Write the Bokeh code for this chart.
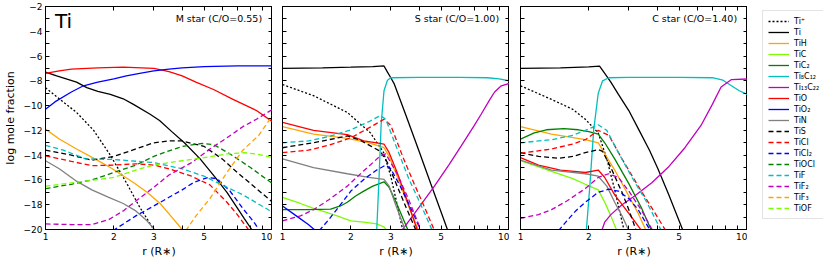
from bokeh.plotting import figure
from bokeh.models import Range1d, LinearAxis, FixedTicker, Label, Legend, LegendItem
from bokeh.layouts import row
from bokeh.embed import file_html
from bokeh.resources import INLINE

FONT = "DejaVu Sans"

SPECIES = ["Ti+", "Ti", "TiH", "TiC", "TiC2", "Ti8C12", "Ti13C22", "TiO", "TiO2", "TiN",
           "TiS", "TiCl", "TiCl2", "TiOCl", "TiF", "TiF2", "TiF3", "TiOF"]
LEGEND_LABELS = ["Ti⁺", "Ti", "TiH", "TiC", "TiC₂", "Ti₈C₁₂", "Ti₁₃C₂₂", "TiO", "TiO₂", "TiN",
                 "TiS", "TiCl", "TiCl₂", "TiOCl", "TiF", "TiF₂", "TiF₃", "TiOF"]
COLORS = {"Ti+": "black", "Ti": "black", "TiH": "#FFA500", "TiC": "#7CFC00", "TiC2": "#008000",
          "Ti8C12": "#00BFBF", "Ti13C22": "#BF00BF", "TiO": "#FF0000", "TiO2": "#0000FF",
          "TiN": "#808080", "TiS": "black", "TiCl": "#FF0000", "TiCl2": "#0000FF",
          "TiOCl": "#008000", "TiF": "#00BFBF", "TiF2": "#BF00BF", "TiF3": "#FFA500",
          "TiOF": "#7CFC00"}
DASH = {"Ti+": "2 2", "TiS": "5 3", "TiCl": "5 3", "TiCl2": "5 3", "TiOCl": "5 3",
        "TiF": "5 3", "TiF2": "5 3", "TiF3": "5 3", "TiOF": "5 3"}

R_TICKS = [1, 2, 3, 4, 5, 6, 7, 8, 9, 10]
R_TICK_LABELS = ["1", "2", "3", "", "5", "", "", "", "", "10"]
Y_TICKS = list(range(-20, -1))
Y_TICK_LABELS = [("−%d" % (-t)) if t % 2 == 0 else "" for t in Y_TICKS]

TITLES = ["M star (C/O=0.55)", "S star (C/O=1.00)", "C star (C/O=1.40)"]

# M star (C/O=0.55): species -> (r [R*], log mole fraction)
M_DATA = {
    "Ti+": ([1, 1.16, 1.37, 1.63, 1.93, 2.3, 2.6, 3.0, 3.1],
            [-8.55, -9.5, -10.55, -12.0, -14.0, -16.4, -18.2, -20.0, -20.6]),
    "Ti": ([1, 1.12, 1.37, 1.52, 1.7, 1.93, 2.2, 2.44, 2.89, 3.18, 3.6, 4.09, 4.8, 5.65, 6.3, 6.9, 7.5, 8.1, 8.4],
           [-7.3, -7.6, -8.1, -8.55, -8.85, -9.1, -9.45, -9.9, -10.7, -11.2, -12.1, -13.0, -14.3, -15.9, -17.0, -18.1, -19.1, -20.0, -20.5]),
    "TiH": ([1, 1.15, 1.37, 1.65, 1.93, 2.44, 2.8, 3.2, 3.6, 4.0, 4.1],
            [-11.9, -12.7, -13.5, -14.3, -15.0, -16.2, -17.0, -17.9, -19.0, -20.0, -20.3]),
    "TiO": ([1, 1.15, 1.3, 1.7, 2.2, 3.0, 3.5, 4.0, 4.6, 5.5, 6.7, 8.5, 10],
            [-7.4, -7.2, -7.05, -6.95, -6.9, -7.0, -7.25, -7.6, -8.1, -8.7, -9.5, -10.4, -11.3]),
    "TiO2": ([1, 1.1, 1.3, 1.47, 1.7, 2.0, 2.27, 2.6, 3.0, 3.5, 4.0, 5.0, 7.0, 10],
             [-10.3, -9.7, -8.9, -8.4, -8.1, -7.85, -7.6, -7.4, -7.2, -7.05, -6.95, -6.85, -6.8, -6.8]),
    "TiN": ([1, 1.15, 1.37, 1.6, 1.9, 2.2, 2.5, 2.8, 3.05],
            [-14.45, -15.1, -16.1, -16.8, -17.4, -17.9, -18.5, -19.3, -20.1]),
    "TiS": ([1, 1.3, 1.6, 2.0, 2.5, 3.0, 3.5, 4.0, 5.0, 6.0, 7.0, 8.5, 10],
            [-13.6, -14.0, -14.4, -14.1, -13.5, -13.0, -12.85, -12.85, -13.3, -14.3, -15.4, -16.7, -17.8]),
    "TiCl": ([1, 1.3, 1.6, 2.0, 2.5, 3.0, 3.5, 4.4, 5.3, 6.3, 7.0, 7.9],
             [-14.05, -14.5, -14.85, -14.8, -14.7, -14.8, -15.1, -15.7, -16.4, -17.8, -18.8, -20.1]),
    "TiCl2": ([1.98, 2.5, 3.0, 3.5, 4.0, 4.5, 5.2, 5.7, 6.5, 7.4, 8.2, 8.8],
              [-20.1, -18.9, -18.1, -17.4, -16.8, -16.2, -15.8, -15.9, -16.9, -18.3, -19.3, -20.1]),
    "TiOCl": ([1, 1.3, 1.6, 2.0, 2.5, 3.0, 3.5, 4.0, 4.9, 5.5, 6.5, 8.0, 10],
              [-16.7, -16.35, -16.0, -15.4, -14.8, -14.1, -13.65, -13.3, -13.05, -13.15, -13.9, -15.0, -16.3]),
    "TiF": ([1, 1.2, 1.5, 2.0, 3.0, 4.0, 5.0, 6.0, 7.4, 10],
            [-13.2, -13.6, -14.3, -14.35, -14.6, -15.1, -15.7, -16.4, -17.2, -18.6]),
    "TiF2": ([1, 1.3, 1.6, 1.9, 2.2, 2.5, 3.0, 3.5, 4.4, 5.3, 6.3, 7.4, 8.5, 10],
             [-19.55, -19.6, -19.6, -19.2, -18.5, -17.7, -16.6, -15.6, -14.6, -13.5, -12.6, -11.7, -11.1, -10.3]),
    "TiF3": ([4.15, 4.6, 5.3, 6.3, 7.4, 8.7, 10],
             [-20.1, -18.9, -17.5, -15.4, -13.6, -12.4, -10.8]),
    "TiOF": ([1, 1.5, 2.0, 2.5, 3.0, 4.0, 5.0, 6.3, 7.5, 8.5, 10],
             [-16.5, -16.1, -15.8, -15.2, -14.8, -14.45, -14.2, -13.9, -13.8, -13.9, -14.2]),
}

# S star (C/O=1.00)
S_DATA = {
    "Ti+": ([1, 1.37, 1.93, 2.44, 2.79, 3.0, 3.2, 3.4],
            [-8.3, -9.2, -10.55, -12.2, -13.8, -15.7, -18.0, -20.2]),
    "Ti": ([1, 1.5, 2.0, 2.5, 2.8, 2.9, 3.0, 3.11, 3.5, 4.0, 4.5, 5.0, 5.4],
           [-7.0, -6.95, -6.9, -6.85, -6.8, -7.3, -7.75, -8.27, -10.8, -13.7, -16.3, -18.6, -20.3]),
    "TiH": ([1, 1.37, 1.93, 2.4, 2.8, 2.95, 3.2, 3.5, 4.0],
            [-11.7, -12.3, -12.65, -13.0, -13.4, -14.1, -15.7, -17.6, -20.2]),
    "TiC": ([1, 1.2, 1.37, 1.55, 1.74, 2.0, 2.28, 2.6, 2.8, 2.9],
            [-17.4, -17.9, -18.3, -18.6, -18.9, -19.3, -19.4, -19.55, -19.8, -20.1]),
    "TiC2": ([1, 1.3, 1.63, 1.8, 1.93, 2.1, 2.28, 2.5, 2.8, 2.95, 3.2, 3.6],
             [-18.4, -18.4, -18.35, -18.1, -17.8, -17.3, -16.9, -16.5, -16.15, -16.6, -18.0, -20.2]),
    "Ti8C12": ([2.6, 2.66, 2.72, 2.8, 2.9, 3.0, 4.0, 6.0, 8.0, 9.0, 10],
               [-20.1, -16.0, -11.5, -8.8, -7.95, -7.75, -7.72, -7.72, -7.75, -7.85, -8.0]),
    "Ti13C22": ([3.35, 4.0, 4.67, 5.4, 6.13, 7.0, 7.5, 8.2, 8.6, 9.2, 10],
                [-20.1, -18.2, -16.5, -14.8, -13.25, -11.6, -10.7, -9.5, -8.9, -8.4, -8.2]),
    "TiO": ([1, 1.37, 1.93, 2.28, 2.6, 2.8, 2.95, 3.2, 3.5, 3.95],
            [-11.35, -12.0, -12.35, -12.85, -13.0, -13.1, -13.8, -15.4, -17.4, -20.2]),
    "TiO2": ([1, 1.15, 1.3, 1.4],
             [-18.1, -18.9, -19.6, -20.1]),
    "TiN": ([1, 1.37, 1.93, 2.4, 2.8, 2.95, 3.15, 3.5],
            [-14.3, -15.0, -15.5, -15.8, -15.95, -16.5, -18.0, -20.2]),
    "TiS": ([1, 1.37, 1.93, 2.2, 2.44, 2.7, 2.9, 3.2, 3.5, 3.9],
            [-13.4, -13.0, -12.45, -12.8, -13.25, -13.7, -14.6, -16.5, -18.2, -20.2]),
    "TiCl": ([1, 1.3, 1.6, 2.0, 2.4, 2.8, 3.0, 3.4, 3.8, 4.2, 4.7],
             [-13.8, -13.6, -13.2, -12.6, -11.8, -11.1, -11.6, -14.2, -16.3, -18.1, -20.2]),
    "TiCl2": ([1.45, 1.6, 1.8, 2.0, 2.3, 2.6, 2.85, 3.0, 3.3, 3.7, 4.1],
              [-20.1, -19.2, -18.0, -16.9, -15.9, -15.2, -14.8, -15.1, -16.5, -18.4, -20.2]),
    "TiF": ([1, 1.3, 1.6, 2.0, 2.4, 2.7, 2.85, 3.2, 3.6, 4.0, 4.6],
            [-13.0, -12.85, -12.5, -11.95, -11.3, -10.8, -11.1, -13.5, -15.9, -17.7, -20.2]),
    "TiF2": ([1, 1.2, 1.37, 1.6, 1.93, 2.3, 2.7, 2.85, 3.2, 3.6, 4.1],
             [-19.3, -18.9, -18.4, -17.6, -16.5, -15.2, -14.05, -13.9, -15.5, -17.6, -20.2]),
}

# C star (C/O=1.40)
C_DATA = {
    "Ti+": ([1, 1.37, 1.7, 1.93, 2.2, 2.4, 2.6, 2.87],
            [-8.4, -9.5, -10.3, -11.1, -12.2, -14.3, -16.8, -20.2]),
    "Ti": ([1, 1.5, 2.0, 2.23, 2.35, 2.5, 2.7, 3.0, 3.31, 3.7, 4.03, 4.5, 5.2],
           [-7.0, -6.95, -6.88, -6.82, -7.4, -8.1, -9.1, -10.4, -11.9, -13.6, -15.1, -17.2, -20.1]),
    "TiH": ([1, 1.37, 1.93, 2.2, 2.35, 2.6, 3.0, 3.3, 3.6],
            [-11.7, -12.3, -12.75, -13.0, -13.9, -15.2, -17.3, -18.7, -20.2]),
    "TiC": ([1, 1.37, 1.7, 1.93, 2.2, 2.35, 2.5, 2.67],
            [-14.45, -15.3, -15.9, -16.35, -16.8, -17.8, -18.9, -20.2]),
    "TiC2": ([1, 1.15, 1.3, 1.55, 1.8, 2.0, 2.2, 2.35, 2.6, 3.0, 3.4, 3.8],
             [-12.7, -12.2, -11.95, -11.85, -11.95, -12.1, -12.3, -13.0, -14.3, -16.3, -18.2, -20.2]),
    "Ti8C12": ([1.95, 2.02, 2.1, 2.2, 2.3, 2.45, 3.0, 5.0, 7.0, 7.8, 8.5, 9.2, 10],
               [-20.1, -16.5, -12.0, -9.0, -8.0, -7.75, -7.72, -7.72, -7.75, -7.95, -8.4, -8.8, -9.1]),
    "Ti13C22": ([2.28, 2.35, 2.5, 2.8, 3.18, 3.8, 4.46, 5.3, 6.24, 7.0, 7.65, 8.5, 10],
                [-20.1, -19.4, -18.8, -18.0, -17.3, -16.2, -15.0, -13.4, -11.6, -9.9, -8.5, -7.9, -7.85]),
    "TiO": ([1, 1.2, 1.5, 1.93, 2.2, 2.35, 2.6, 3.0, 3.45],
            [-14.2, -14.8, -15.2, -15.4, -15.2, -15.8, -17.2, -18.7, -20.2]),
    "TiN": ([1, 1.37, 1.93, 2.2, 2.4, 2.6, 2.8, 3.02],
            [-14.4, -15.2, -15.5, -15.7, -16.5, -17.8, -18.9, -20.2]),
    "TiS": ([1, 1.2, 1.47, 1.7, 1.93, 2.2, 2.3, 2.5, 2.8, 3.0, 3.25],
            [-13.8, -14.1, -14.25, -14.1, -13.8, -13.55, -13.7, -15.0, -17.0, -18.4, -20.2]),
    "TiCl": ([1, 1.37, 1.7, 1.93, 2.2, 2.45, 2.8, 3.3, 3.8, 4.4],
             [-13.85, -13.5, -13.1, -12.75, -12.0, -12.4, -14.3, -16.5, -18.3, -20.2]),
    "TiCl2": ([1.47, 1.6, 1.75, 1.93, 2.2, 2.45, 2.7, 3.0, 3.3, 3.76],
              [-20.1, -19.3, -18.5, -17.8, -17.0, -16.75, -16.9, -17.5, -18.4, -20.2]),
    "TiF": ([1, 1.37, 1.7, 1.93, 2.2, 2.4, 2.7, 3.1, 3.6, 4.2],
            [-13.0, -12.75, -12.4, -12.0, -11.55, -12.0, -13.8, -15.8, -17.8, -20.2]),
    "TiF2": ([1, 1.2, 1.37, 1.6, 1.93, 2.2, 2.45, 2.7, 3.0, 3.4, 3.85],
             [-19.1, -18.8, -18.4, -17.7, -16.7, -15.8, -15.5, -15.8, -16.9, -18.4, -20.2]),
}

PANEL_DATA = [M_DATA, S_DATA, C_DATA]
LEFT_BORDERS = [38, 10, 11]


def style_axis(ax, ticks, labels, show_labels):
    ax.ticker = FixedTicker(ticks=ticks)
    ax.major_label_overrides = {t: (l if show_labels else "") for t, l in zip(ticks, labels)}
    ax.axis_line_color = "black"
    ax.major_tick_line_color = "black"
    ax.major_tick_in = 4
    ax.major_tick_out = 0
    ax.minor_tick_in = 0
    ax.minor_tick_out = 0
    ax.major_label_text_font = FONT
    ax.major_label_text_color = "black"
    if show_labels:
        ax.major_label_text_font_size = "9px"
        ax.major_label_standoff = 3
    else:
        ax.major_label_text_font_size = "0px"
        ax.major_label_standoff = 0
    ax.axis_label_text_font = FONT
    ax.axis_label_text_font_size = "11px"
    ax.axis_label_text_font_style = "normal"
    ax.axis_label_text_color = "black"


def make_panel(idx):
    data = PANEL_DATA[idx]
    p = figure(frame_width=227, frame_height=223, x_axis_type="log",
               x_range=Range1d(1, 10), y_range=Range1d(-20, -2),
               output_backend="svg", toolbar_location=None,
               min_border_left=LEFT_BORDERS[idx], min_border_right=0,
               min_border_top=6, min_border_bottom=25)
    p.grid.visible = False
    p.outline_line_color = "black"
    p.background_fill_color = "white"
    p.border_fill_color = "white"
    for sp in SPECIES:
        if sp in data:
            r, v = data[sp]
            p.line(r, v, line_color=COLORS[sp], line_width=1.3,
                   line_dash=DASH.get(sp, "solid"))
    xa = p.xaxis[0]
    style_axis(xa, R_TICKS, R_TICK_LABELS, True)
    xa.axis_label = "r (R∗)"
    xa.axis_label_standoff = 2
    ya = p.yaxis[0]
    style_axis(ya, Y_TICKS, Y_TICK_LABELS, idx == 0)
    if idx == 0:
        ya.axis_label = "log mole fraction"
        ya.axis_label_standoff = 4
    top = LinearAxis()
    style_axis(top, R_TICKS, R_TICK_LABELS, False)
    p.add_layout(top, "above")
    right = LinearAxis()
    style_axis(right, Y_TICKS, Y_TICK_LABELS, False)
    p.add_layout(right, "right")
    p.add_layout(Label(x=9.0, y=-2.97, text=TITLES[idx], text_align="right",
                       text_baseline="middle", text_font=FONT, text_font_size="9.5px",
                       text_color="black"))
    if idx == 0:
        p.add_layout(Label(x=1.1, y=-3.2, text="Ti", text_align="left",
                           text_baseline="middle", text_font=FONT, text_font_size="20px",
                           text_color="black"))
    return p


panels = [make_panel(i) for i in range(3)]

pl = figure(frame_width=61, frame_height=223, x_range=Range1d(0, 1), y_range=Range1d(0, 1),
            output_backend="svg", toolbar_location=None,
            x_axis_location=None, y_axis_location=None,
            min_border_left=15, min_border_right=0, min_border_top=6, min_border_bottom=25)
pl.grid.visible = False
pl.outline_line_color = None
pl.background_fill_color = "white"
pl.border_fill_color = "white"
items = []
for sp, lab in zip(SPECIES, LEGEND_LABELS):
    # legend-only proxy line, placed outside the visible range
    rr = pl.line([5, 6], [5, 5], line_color=COLORS[sp], line_width=1.3,
                 line_dash=DASH.get(sp, "solid"))
    items.append(LegendItem(label=lab, renderers=[rr]))
legend = Legend(items=items, location=(0, 10), margin=0, padding=5, spacing=1,
                glyph_width=21, glyph_height=10, label_height=10, label_standoff=5,
                label_text_font=FONT, label_text_font_size="8px", label_text_color="black",
                border_line_color="#c8c8c8", border_line_width=1,
                background_fill_color="white", background_fill_alpha=1.0)
pl.add_layout(legend)

layout = row(*panels, pl)
open("out.html", "w").write(file_html(layout, INLINE))
